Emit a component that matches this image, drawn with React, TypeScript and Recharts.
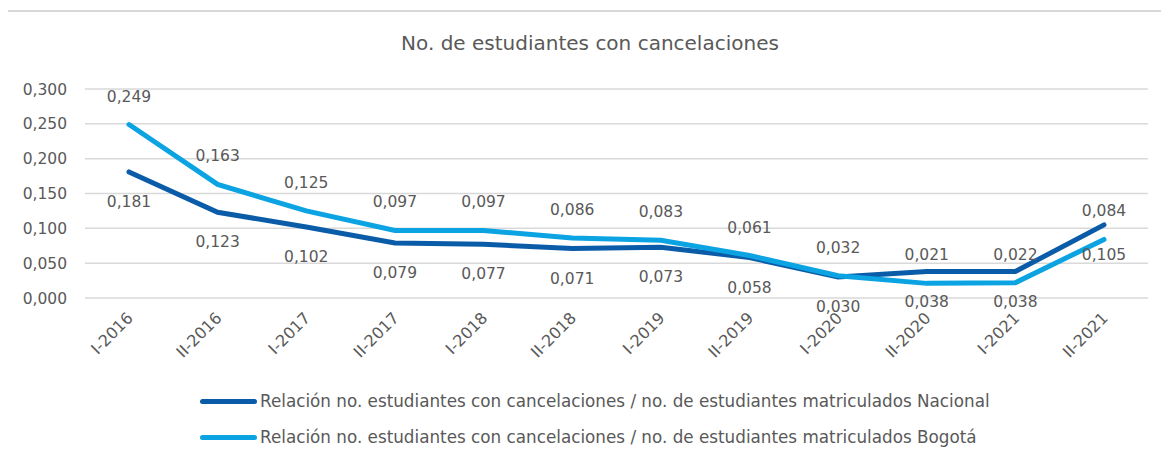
import React from 'react';
import { LineChart, Line, XAxis, YAxis, CartesianGrid, LabelList } from 'recharts';

const categories = [
  'I-2016', 'II-2016', 'I-2017', 'II-2017', 'I-2018', 'II-2018',
  'I-2019', 'II-2019', 'I-2020', 'II-2020', 'I-2021', 'II-2021',
];
const nacional = [0.181, 0.123, 0.102, 0.079, 0.077, 0.071, 0.073, 0.058, 0.03, 0.038, 0.038, 0.105];
const bogota = [0.249, 0.163, 0.125, 0.097, 0.097, 0.086, 0.083, 0.061, 0.032, 0.021, 0.022, 0.084];
const yTicks = [0, 0.05, 0.1, 0.15, 0.2, 0.25, 0.3];

const nameNacional = 'Relación no. estudiantes con cancelaciones / no. de estudiantes matriculados Nacional';
const nameBogota = 'Relación no. estudiantes con cancelaciones / no. de estudiantes matriculados Bogotá';

const DARK = '#0b5ca8';
const LIGHT = '#0ba3e2';
const TEXT = '#595959';
const FONT = '"DejaVu Sans", sans-serif';

const data = categories.map((c, i) => ({ cat: c, nacional: nacional[i], bogota: bogota[i] }));

const fmt = (v: number) => v.toFixed(3).replace('.', ',');

const XTick = ({ x, y, payload }: any) => {
  const ax = x + 5;
  const ay = y + 21;
  return (
    <text
      x={ax}
      y={ay}
      textAnchor="end"
      transform={`rotate(-45 ${ax} ${ay})`}
      fill={TEXT}
      fontSize={16}
      fontFamily={FONT}
    >
      {payload.value}
    </text>
  );
};

const makeLabel = (dy: number) => (props: any) => {
  const { x, y, value } = props;
  return (
    <text
      x={x}
      y={y + dy}
      textAnchor="middle"
      dominantBaseline="central"
      fill={TEXT}
      fontSize={15.5}
      fontFamily={FONT}
    >
      {fmt(value)}
    </text>
  );
};

const LegendRow = ({ color, label }: { color: string; label: string }) => (
  <div style={{ display: 'flex', alignItems: 'center', height: 36 }}>
    <div style={{ width: 57, height: 5, borderRadius: 3, background: color, marginRight: 3 }} />
    <span style={{ color: TEXT, fontSize: 16.8, fontFamily: FONT, whiteSpace: 'nowrap' }}>{label}</span>
  </div>
);

export default function App() {
  return (
    <div style={{ position: 'relative', margin: -8, width: 1169, height: 464, overflow: 'hidden', background: '#fff' }}>
      <div
        style={{
          position: 'absolute', left: 5, top: 10, width: 1180, height: 480,
          border: '2px solid #d9d9d9', boxSizing: 'border-box',
        }}
      />
      <div
        style={{
          position: 'absolute', left: 0, top: 31, width: 1180, textAlign: 'center',
          color: TEXT, fontSize: 20, fontFamily: FONT,
        }}
      >
        No. de estudiantes con cancelaciones
      </div>
      <div style={{ position: 'absolute', top: 0, left: 0 }}>
        <LineChart width={1169} height={464} data={data} margin={{ top: 89, right: 21, bottom: 66, left: 0 }}>
          <CartesianGrid vertical={false} stroke="#d9d9d9" strokeWidth={1.5} />
          <XAxis
            dataKey="cat"
            axisLine={false}
            tickLine={false}
            tickSize={0}
            tickMargin={0}
            height={100}
            interval={0}
            padding={{ left: 44, right: 44 }}
            tick={<XTick />}
          />
          <YAxis
            width={85}
            domain={[0, 0.3]}
            ticks={yTicks}
            axisLine={false}
            tickLine={false}
            tickSize={0}
            tickMargin={18}
            tickFormatter={fmt}
            tick={{ fill: TEXT, fontSize: 15.5, fontFamily: FONT }}
          />
          <Line
            dataKey="nacional"
            name={nameNacional}
            stroke={DARK}
            strokeWidth={5}
            dot={false}
            type="linear"
            strokeLinecap="round"
            isAnimationActive={false}
          >
            <LabelList dataKey="nacional" content={makeLabel(30)} />
          </Line>
          <Line
            dataKey="bogota"
            name={nameBogota}
            stroke={LIGHT}
            strokeWidth={5}
            dot={false}
            type="linear"
            strokeLinecap="round"
            isAnimationActive={false}
          >
            <LabelList dataKey="bogota" content={makeLabel(-28)} />
          </Line>
        </LineChart>
      </div>
      <div style={{ position: 'absolute', left: 200, top: 383 }}>
        <LegendRow color={DARK} label={nameNacional} />
        <LegendRow color={LIGHT} label={nameBogota} />
      </div>
    </div>
  );
}
